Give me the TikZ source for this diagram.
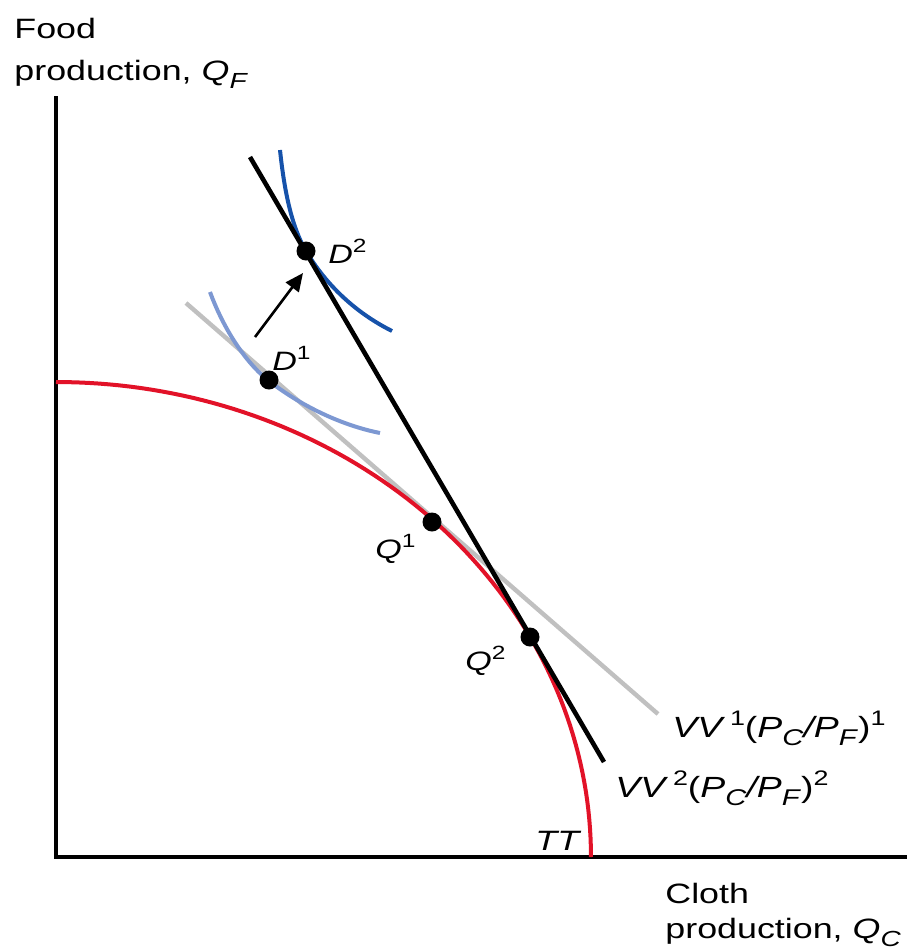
\documentclass[tikz,border=0pt]{standalone}
\usepackage{fontspec}
\usepackage{graphicx}
\setmainfont{Liberation Sans}[FakeStretch=1.28]
\usetikzlibrary{arrows.meta}
\definecolor{ttred}{RGB}{226,18,40}
\definecolor{icdark}{RGB}{22,82,170}
\definecolor{iclight}{RGB}{125,152,210}
\definecolor{vvgray}{RGB}{192,192,192}
\newcommand\lowsub[1]{\raisebox{-0.55ex}{\scalebox{0.78}{\textit{#1}}}}
\newcommand\upsup[1]{\raisebox{0.75ex}{\scalebox{0.72}{#1}}}
\begin{document}
\begin{tikzpicture}[x=0.5pt,y=-0.5pt,
  axis/.style={line width=2.3pt,line cap=rect},
  curve/.style={line width=2pt},
  dot/.style={circle,fill=black,inner sep=0pt,minimum size=9.5pt},
  lbl/.style={anchor=base west,inner sep=0pt,font=\fontsize{13.3}{15}\selectfont},
  axlbl/.style={anchor=base west,inner sep=0pt,align=left,font=\fontsize{14}{21}\selectfont},
  vvlbl/.style={anchor=base west,inner sep=0pt,font=\fontsize{14.6}{18}\selectfont}]
\useasboundingbox (0,0) rectangle (911,949);
% axes
\coordinate (ytop) at (56,98);
\coordinate (orig) at (56,857);
\coordinate (xend) at (905,857);
\draw[axis] (ytop) -- (orig) -- (xend);
% VV1 gray price line
\coordinate (g1) at (186,303);
\coordinate (g2) at (658,714);
\draw[curve,vvgray,line width=2.2pt] (g1) -- (g2);
% light blue indifference curve
\draw[curve,iclight] (210,292) .. controls (224,330) and (246,363) .. (269,381)
  .. controls (300,405) and (340,425) .. (380,433);
% TT production possibility frontier
\draw[curve,ttred] plot[domain=0:90,samples=80] ({56+535*cos(\x)},{857-475*sin(\x)});
% dark blue indifference curve
\draw[curve,icdark] (280,150) .. controls (284,188) and (291,226) .. (306,251)
  .. controls (326,285) and (356,313) .. (392,331);
% VV2 black price line
\coordinate (b1) at (250,157);
\coordinate (b2) at (604,762);
\draw[line width=2.3pt] (b1) -- (b2);
% dots
\node[dot] (D2) at (306,251) {};
\node[dot] (D1) at (269,380) {};
\node[dot] (Q1) at (432,522) {};
\node[dot] (Q2) at (530,637) {};
% arrow
\coordinate (a1) at (255,337);
\coordinate (a2) at (303,273);
\draw[line width=1.3pt,-{Triangle[length=9pt,width=8pt]}] (a1) -- (a2);
% labels
\node[lbl] (lD2) at (328,263) {\textit{D}\upsup{2}};
\node[lbl] (lD1) at (272,370) {\textit{D}\upsup{1}};
\node[lbl] (lQ1) at (375,558) {\textit{Q}\upsup{1}};
\node[lbl] (lQ2) at (465,670) {\textit{Q}\upsup{2}};
\node[vvlbl] (lVV1) at (672,737) {\textit{VV}\,\upsup{1}(\textit{P}\lowsub{C}\textit{/P}\lowsub{F})\upsup{1}};
\node[vvlbl] (lVV2) at (615,797) {\textit{VV}\,\upsup{2}(\textit{P}\lowsub{C}\textit{/P}\lowsub{F})\upsup{2}};
\node[lbl,font=\fontsize{14}{16}\selectfont] (lTT) at (535,850) {\textit{TT}};
\node[axlbl] (lFood1) at (14,38) {Food};
\node[axlbl] (lFood2) at (14,80) {production, \textit{Q}\lowsub{F}};
\node[axlbl] (lCloth1) at (665,903) {Cloth};
\node[axlbl] (lCloth2) at (665,938) {production, \textit{Q}\lowsub{C}};
\end{tikzpicture}
\end{document}
